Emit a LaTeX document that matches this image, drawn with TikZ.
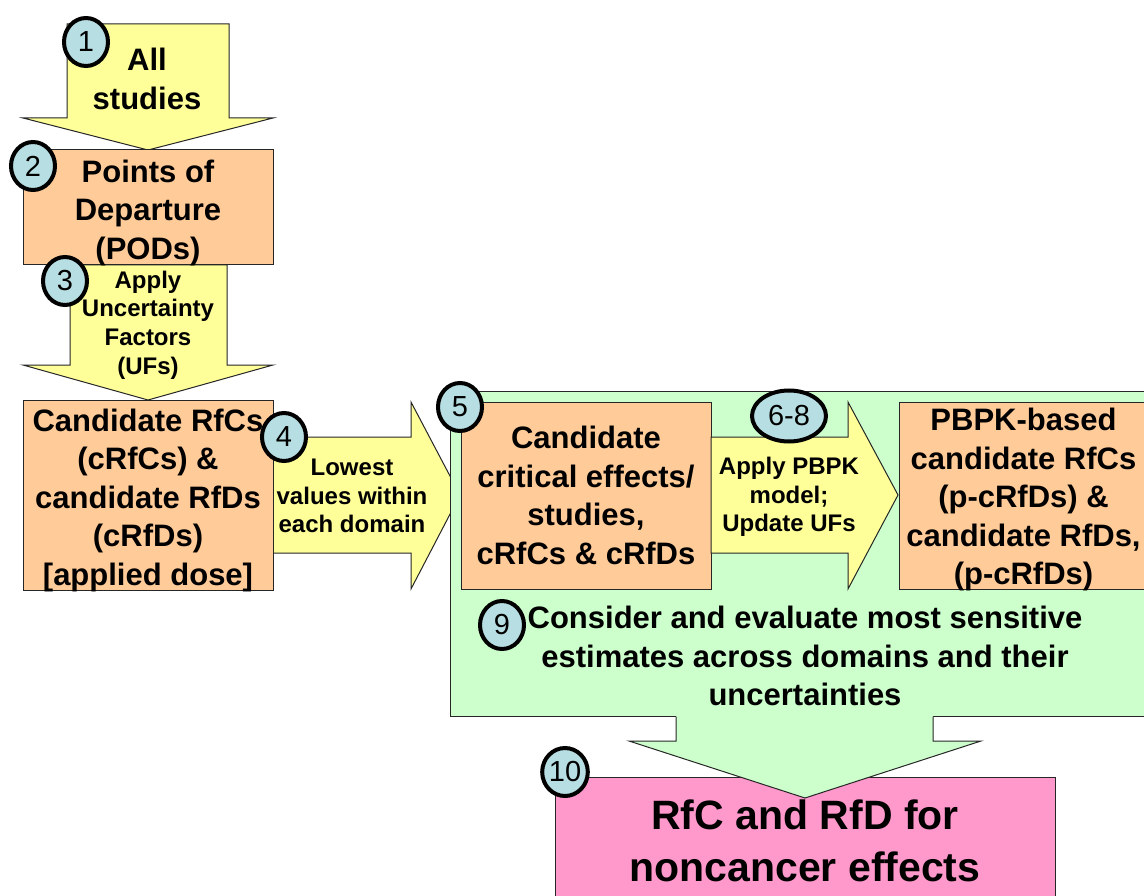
\documentclass[tikz,border=0pt]{standalone}
\usepackage{fontspec}
\setmainfont{Liberation Sans}
\usepackage{xcolor}
\usetikzlibrary{shapes.geometric}
\definecolor{arrowyellow}{HTML}{FFFF99}
\definecolor{boxpeach}{HTML}{FFCC99}
\definecolor{boxgreen}{HTML}{CCFFCC}
\definecolor{boxpink}{HTML}{FF99CC}
\definecolor{numblue}{HTML}{B7DEE2}

\begin{document}
\begin{tikzpicture}[x=1pt,y=-1pt,
  outl/.style={draw=black!85,line width=1pt},
  yarrow/.style={outl,fill=arrowyellow},
  pbox/.style={outl,fill=boxpeach},
  bigtext/.style={inner sep=0pt,align=center,font=\fontsize{31}{38.5}\selectfont\bfseries},
  smalltext/.style={inner sep=0pt,align=center,font=\fontsize{24}{28.7}\selectfont\bfseries},
  stepnum/.style={ellipse,draw=black,line width=4pt,fill=numblue,inner sep=0pt,
                  minimum width=44pt,minimum height=48pt,font=\fontsize{29}{29}\selectfont}]
  \useasboundingbox (0,0) rectangle (1144,896);
  \clip (0,0) rectangle (1144,896);

  % big yellow arrows on the left
  \draw[yarrow] (67,24) -- (229,24) -- (229,118) -- (273,118) -- (148,150)
                -- (23,118) -- (67,118) -- cycle;
  \draw[yarrow] (70,265) -- (70,365) -- (23,365) -- (148,400) -- (273,365)
                -- (227,365) -- (227,265) -- cycle;
  \draw[yarrow] (273,437) -- (411,437) -- (411,402) -- (460,495) -- (411,589)
                -- (411,553) -- (273,553) -- cycle;

  \node[bigtext] (allstudies) at (147,79) {All\\studies};
  \node[smalltext] (applyufs) at (148,325) {Apply\\Uncertainty\\Factors\\(UFs)};
  \node[smalltext] (lowest) at (352,496) {Lowest\\values within\\each domain};

  \node[pbox,minimum width=250pt,minimum height=115pt] (pods) at (148,207.5) {};
  \node[bigtext] (podstext) at ([yshift=-5pt]pods.center) {Points of\\Departure\\(PODs)};
  \node[pbox,minimum width=250pt,minimum height=190pt] (cand) at (148,495) {};
  \node[bigtext] (candtext) at ([yshift=-5pt]cand.center)
       {Candidate RfCs\\(cRfCs) \&\\candidate RfDs\\(cRfDs)\\{[}applied dose{]}};

  % green region
  \node[outl,fill=boxgreen,minimum width=702pt,minimum height=325pt] (region) at (801,553.5) {};
  \node[pbox,minimum width=250pt,minimum height=187pt] (critical) at (586,495.5) {};
  \node[bigtext] (criticaltext) at (critical.center)
       {Candidate\\critical effects/\\studies,\\cRfCs \& cRfDs};
  \draw[yarrow] (711,437) -- (848,437) -- (848,402) -- (898,495) -- (848,589)
                -- (848,553) -- (711,553) -- cycle;
  \node[smalltext] (pbpkapply) at (789,497) {Apply PBPK\\model;\\Update UFs};
  \node[pbox,minimum width=249pt,minimum height=187pt] (pbpk) at (1023.5,495.5) {};
  \node[bigtext] (pbpktext) at ([yshift=-4pt]pbpk.center)
       {PBPK-based\\candidate RfCs\\(p-cRfDs) \&\\candidate RfDs,\\(p-cRfDs)};
  \node[bigtext] (consider) at (805,656)
       {Consider and evaluate most sensitive\\estimates across domains and their\\uncertainties};

  % final result
  \node[outl,fill=boxpink,minimum width=500pt,minimum height=140pt] (final) at (805,847) {};
  \node[inner sep=0pt,align=center,font=\fontsize{41}{52}\selectfont\bfseries] (finaltext)
       at (805,841) {RfC and RfD for\\noncancer effects};
  \fill[boxgreen] (676,713) -- (676,741) -- (629,741) -- (805,798) -- (981,741)
                  -- (933,741) -- (933,713) -- cycle;
  \draw[outl] (676,716.5) -- (676,741) -- (629,741) -- (805,798) -- (981,741)
              -- (933,741) -- (933,716.5);

  % step numbers
  \node[stepnum] (n1) at (86,42) {1};
  \node[stepnum] (n2) at (33,166) {2};
  \node[stepnum] (n3) at (65,281) {3};
  \node[stepnum] (n4) at (284,437) {4};
  \node[stepnum] (n5) at (460,407) {5};
  \node[stepnum,minimum width=74pt,minimum height=51pt] (n68) at (789,416) {6-8};
  \node[stepnum] (n9) at (502,625) {9};
  \node[stepnum] (n10) at (565,772) {10};
\end{tikzpicture}
\end{document}
